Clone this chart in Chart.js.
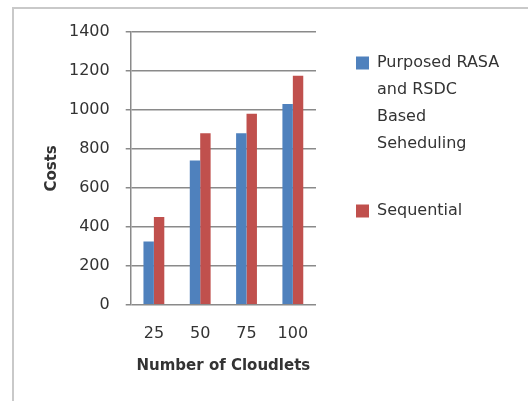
<!DOCTYPE html>
<html>
<head>
<meta charset="utf-8">
<script src="https://cdn.jsdelivr.net/npm/chart.js@4.4.1/dist/chart.umd.min.js"></script>
<style>
  html, body { margin: 0; padding: 0; background: #fff; overflow: hidden; }
  canvas { display: block; }
</style>
</head>
<body>
<canvas id="chart" width="528" height="401"></canvas>
<script>
/* ── Data ── */
const cloudlets  = ['25', '50', '75', '100'];
const rasaCosts  = [325, 740, 880, 1030];
const seqCosts   = [450, 880, 980, 1175];
const yTicks     = [0, 200, 400, 600, 800, 1000, 1200, 1400];

const BLUE  = '#4f81bd';
const RED   = '#c0504d';
const GRID  = '#8a8a8a';
const TEXT  = '#333333';
const FONT  = "'DejaVu Sans', sans-serif";

/* light frame round the chart, open to the right and bottom like the source crop */
const framePlugin = {
  id: 'frame',
  beforeDraw(chart) {
    const { ctx, width, height } = chart;
    ctx.save();
    ctx.strokeStyle = '#c9c9c9';
    ctx.lineWidth = 2;
    ctx.beginPath();
    ctx.moveTo(13, height);
    ctx.lineTo(13, 8);
    ctx.lineTo(width, 8);
    ctx.stroke();
    ctx.restore();
  },
};

new Chart(document.getElementById('chart'), {
  type: 'bar',
  data: {
    labels: cloudlets,
    datasets: [
      { label: ['Purposed RASA', 'and RSDC', 'Based', 'Seheduling'], data: rasaCosts, backgroundColor: BLUE },
      { label: 'Sequential', data: seqCosts, backgroundColor: RED },
    ],
  },
  plugins: [framePlugin],
  options: {
    responsive: false,
    animation: false,
    layout: { padding: { top: 15, left: 51, right: 19, bottom: 31 } },
    datasets: { bar: { categoryPercentage: 0.45, barPercentage: 1.0 } },
    plugins: {
      tooltip: { enabled: false },
      legend: {
        position: 'right',
        align: 'start',
        maxWidth: 193,
        labels: {
          boxWidth: 13, boxHeight: 13, padding: 40, color: TEXT,
          font: { family: FONT, size: 16, lineHeight: '27px' },
          generateLabels: chart => chart.data.datasets.map((ds, i) => ({
            text: ds.label, fillStyle: ds.backgroundColor, strokeStyle: ds.backgroundColor,
            lineWidth: 0, datasetIndex: i, fontColor: TEXT,
          })),
        },
      },
    },
    scales: {
      x: {
        grid: { display: false, drawTicks: false },
        border: { display: false },
        ticks: { padding: 19, color: TEXT, font: { family: FONT, size: 16, lineHeight: '19.2px' } },
        title: {
          display: true, text: 'Number of Cloudlets', color: TEXT, padding: 0,
          font: { family: FONT, size: 15, weight: 'bold', lineHeight: '8px' },
        },
      },
      y: {
        min: 0, max: 1400,
        afterBuildTicks: axis => { axis.ticks = yTicks.map(v => ({ value: v })); },
        grid: { color: GRID, lineWidth: 1.5, tickLength: 5 },
        border: { display: true, color: GRID, width: 1.5 },
        ticks: {
          padding: 16, color: TEXT, font: { family: FONT, size: 16, lineHeight: '32px' },
          callback: v => String(v),
        },
        title: {
          display: true, text: 'Costs', color: TEXT, padding: 0,
          font: { family: FONT, size: 15, weight: 'bold', lineHeight: '2px' },
        },
      },
    },
  },
});
</script>
</body>
</html>
